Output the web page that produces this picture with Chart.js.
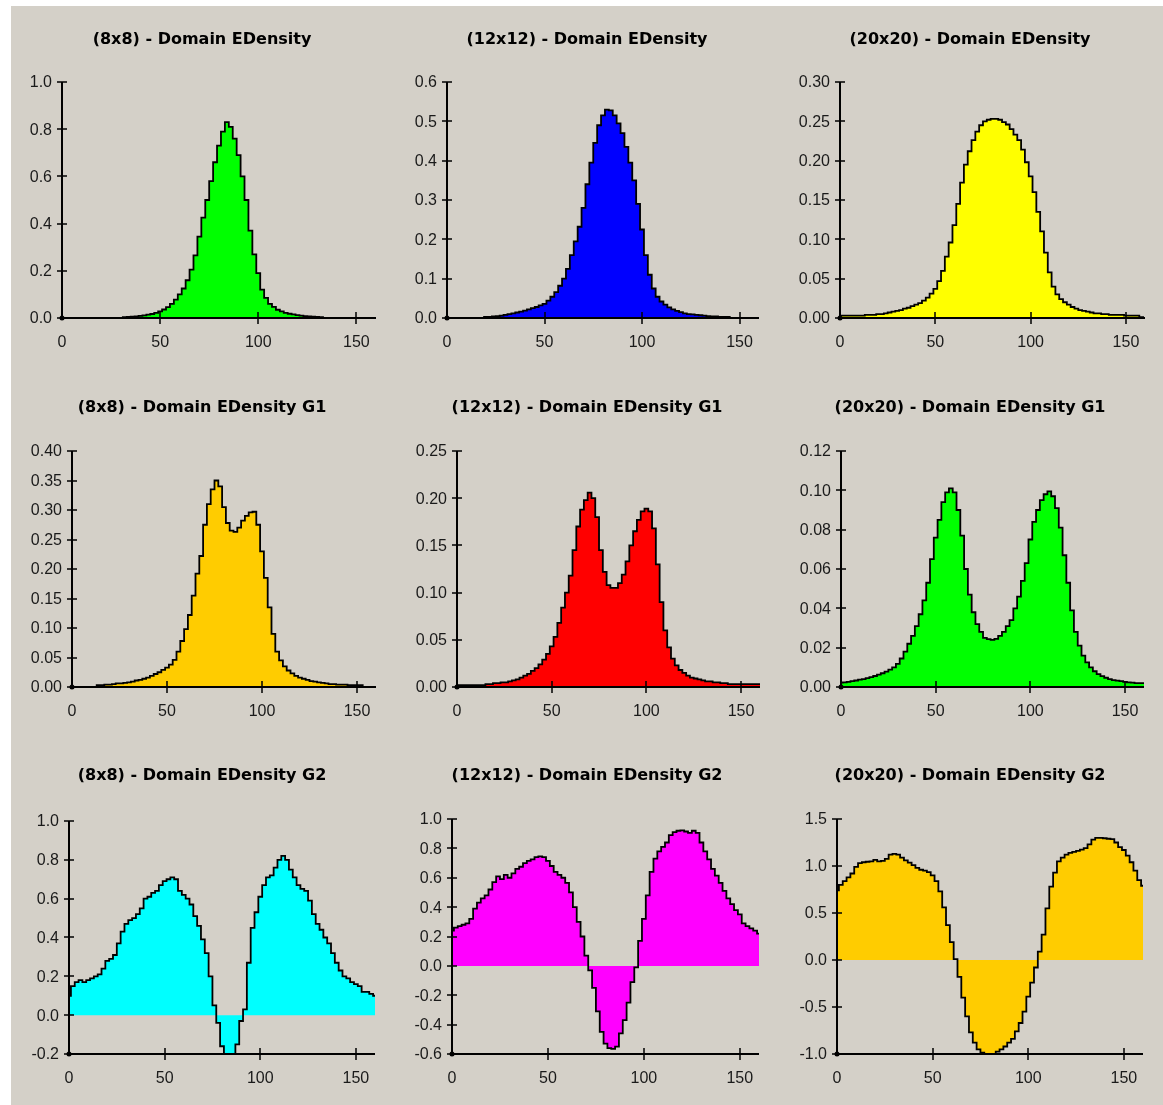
<!DOCTYPE html>
<html>
<head>
<meta charset="utf-8">
<title>Domain EDensity</title>
<script src="https://cdn.jsdelivr.net/npm/chart.js@4.4.1/dist/chart.umd.min.js"></script>
<style>
  html, body { margin: 0; padding: 0; background: #fff; }
  body { width: 1163px; height: 1105px; position: relative; overflow: hidden; }
  #panel { position: absolute; left: 11px; top: 6px; right: 0; bottom: 0; background: #d4d0c8; }
  canvas { position: absolute; }
</style>
</head>
<body>
<div id="panel"></div>
<script>
// x positions of the histogram bins (shared by all nine plots)
const xPos = [0,2,4,6,8,10,12,14,16,18,20,22,24,26,28,30,32,34,36,38,
  40,42,44,46,48,50,52,54,56,58,60,62,64,66,68,70,72,74,76,78,
  80,82,84,86,88,90,92,94,96,98,100,102,104,106,108,110,112,114,116,118,
  120,122,124,126,128,130,132,134,136,138,140,142,144,146,148,150,152,154,156,158,160];
const xTicks = [0, 50, 100, 150];
const xMax = 160;

// Domain EDensity
const edensity8 = [0,0,0,0,0,0,0,0,0,0,
  0,0,0,0,0,0,0.004,0.005,0.006,0.007,
  0.009,0.011,0.014,0.017,0.022,0.028,0.036,0.046,0.060,0.078,
  0.100,0.125,0.160,0.205,0.265,0.345,0.425,0.50,0.58,0.66,
  0.73,0.79,0.83,0.81,0.76,0.69,0.60,0.50,0.37,0.27,
  0.19,0.12,0.085,0.06,0.047,0.035,0.028,0.022,0.018,0.015,
  0.012,0.010,0.008,0.007,0.006,0.005,0.004,0,0,0,
  0,0,0,0,0,0,0,0,0,0,0];
const edensity12 = [0,0,0,0,0,0,0,0,0,0,
  0.003,0.003,0.004,0.005,0.006,0.008,0.010,0.012,0.014,0.016,
  0.019,0.022,0.025,0.028,0.032,0.036,0.044,0.054,0.066,0.082,
  0.100,0.125,0.160,0.195,0.232,0.280,0.340,0.395,0.445,0.490,
  0.515,0.530,0.528,0.515,0.495,0.470,0.435,0.395,0.350,0.290,
  0.225,0.160,0.110,0.075,0.054,0.042,0.034,0.027,0.022,0.018,
  0.015,0.012,0.010,0.009,0.008,0.007,0.006,0.005,0.004,0.004,
  0.003,0.003,0.003,0,0,0,0,0,0,0,0];
const edensity20 = [0.003,0.003,0.003,0.003,0.003,0.003,0.003,0.004,0.004,0.004,
  0.005,0.005,0.006,0.007,0.008,0.009,0.010,0.012,0.013,0.015,
  0.017,0.019,0.022,0.026,0.031,0.037,0.047,0.060,0.078,0.096,
  0.118,0.145,0.172,0.195,0.212,0.226,0.237,0.245,0.250,0.252,
  0.253,0.253,0.252,0.249,0.246,0.240,0.233,0.226,0.214,0.198,
  0.180,0.160,0.135,0.110,0.083,0.058,0.040,0.030,0.024,0.020,
  0.017,0.014,0.012,0.010,0.009,0.008,0.007,0.006,0.006,0.005,
  0.005,0.004,0.004,0.004,0.004,0.003,0.003,0.003,0.003,0.001,0];

// Domain EDensity G1
const g1Density8 = [0,0,0,0,0,0,0,0.003,0.003,0.004,
  0.004,0.005,0.006,0.006,0.007,0.008,0.009,0.011,0.012,0.014,
  0.016,0.019,0.022,0.025,0.029,0.033,0.038,0.046,0.060,0.078,
  0.098,0.122,0.155,0.192,0.222,0.275,0.310,0.335,0.350,0.340,
  0.305,0.278,0.265,0.263,0.270,0.282,0.290,0.296,0.297,0.275,
  0.230,0.185,0.135,0.090,0.060,0.045,0.035,0.028,0.023,0.019,
  0.016,0.014,0.012,0.010,0.009,0.008,0.007,0.006,0.005,0.005,
  0.004,0.004,0.004,0.003,0.003,0.003,0.003,0,0,0,0];
const g1Density12 = [0.002,0.002,0.002,0.002,0.002,0.002,0.002,0.002,0.003,0.003,
  0.004,0.004,0.005,0.005,0.006,0.007,0.008,0.010,0.012,0.014,
  0.017,0.020,0.024,0.029,0.035,0.043,0.053,0.068,0.084,0.100,
  0.118,0.145,0.170,0.188,0.198,0.206,0.200,0.180,0.145,0.122,
  0.108,0.105,0.105,0.110,0.119,0.133,0.150,0.165,0.177,0.186,
  0.189,0.186,0.168,0.130,0.090,0.060,0.042,0.030,0.023,0.018,
  0.015,0.012,0.010,0.009,0.008,0.007,0.006,0.006,0.005,0.005,
  0.004,0.004,0.003,0.003,0.003,0.003,0.003,0.003,0.003,0.003,0.003];
const g1Density20 = [0.0022,0.0024,0.0026,0.003,0.0033,0.0037,0.004,0.0045,0.005,0.0056,
  0.0063,0.007,0.0078,0.0088,0.010,0.0118,0.0145,0.018,0.022,0.026,
  0.031,0.037,0.044,0.053,0.065,0.076,0.085,0.094,0.099,0.101,
  0.099,0.090,0.077,0.060,0.047,0.038,0.032,0.028,0.025,0.0243,
  0.024,0.0245,0.026,0.028,0.031,0.034,0.040,0.046,0.054,0.063,
  0.075,0.084,0.090,0.095,0.098,0.0995,0.097,0.091,0.081,0.067,
  0.053,0.039,0.028,0.021,0.016,0.0125,0.010,0.008,0.0065,0.0055,
  0.0047,0.004,0.0035,0.0032,0.003,0.0026,0.0024,0.0022,0.002,0.002,0.002];

// Domain EDensity G2
const g2Density8 = [0.10,0.15,0.17,0.18,0.17,0.18,0.19,0.20,0.21,0.24,
  0.28,0.29,0.31,0.37,0.43,0.47,0.49,0.50,0.52,0.55,
  0.60,0.61,0.63,0.64,0.67,0.69,0.70,0.71,0.70,0.64,
  0.62,0.60,0.57,0.51,0.46,0.39,0.32,0.20,0.05,-0.04,
  -0.16,-0.24,-0.25,-0.23,-0.15,-0.03,0.03,0.27,0.45,0.53,
  0.61,0.67,0.71,0.72,0.76,0.80,0.82,0.80,0.75,0.71,
  0.67,0.65,0.64,0.59,0.52,0.47,0.44,0.40,0.37,0.32,
  0.27,0.23,0.20,0.19,0.17,0.16,0.15,0.12,0.12,0.11,0.10];
const g2Density12 = [0.24,0.26,0.27,0.28,0.29,0.32,0.39,0.43,0.46,0.48,
  0.52,0.57,0.61,0.59,0.62,0.60,0.63,0.66,0.675,0.70,
  0.715,0.725,0.74,0.745,0.74,0.715,0.68,0.64,0.62,0.60,
  0.565,0.50,0.40,0.30,0.20,0.07,-0.03,-0.15,-0.31,-0.45,
  -0.53,-0.56,-0.565,-0.55,-0.46,-0.37,-0.25,-0.11,-0.01,0.17,
  0.32,0.48,0.64,0.73,0.78,0.81,0.84,0.89,0.91,0.92,
  0.922,0.915,0.905,0.92,0.905,0.84,0.78,0.725,0.66,0.615,
  0.565,0.51,0.46,0.42,0.38,0.35,0.29,0.27,0.255,0.24,0.22];
const g2Density20 = [0.74,0.80,0.84,0.88,0.92,0.99,1.03,1.04,1.045,1.05,
  1.065,1.05,1.055,1.075,1.12,1.13,1.12,1.09,1.06,1.035,
  1.01,0.98,0.96,0.95,0.935,0.90,0.84,0.73,0.56,0.37,
  0.19,0.01,-0.18,-0.40,-0.60,-0.77,-0.88,-0.95,-0.985,-1.0,
  -1.0,-1.0,-0.975,-0.95,-0.92,-0.88,-0.84,-0.76,-0.67,-0.55,
  -0.39,-0.24,-0.08,0.09,0.27,0.55,0.78,0.93,1.05,1.09,
  1.12,1.14,1.15,1.16,1.175,1.19,1.23,1.28,1.30,1.30,
  1.295,1.29,1.285,1.25,1.20,1.17,1.11,1.04,0.95,0.85,0.79];

// y tick labels of each plot
const yTicks1 = ['0.0','0.2','0.4','0.6','0.8','1.0'];
const yTicks2 = ['0.0','0.1','0.2','0.3','0.4','0.5','0.6'];
const yTicks3 = ['0.00','0.05','0.10','0.15','0.20','0.25','0.30'];
const yTicks4 = ['0.00','0.05','0.10','0.15','0.20','0.25','0.30','0.35','0.40'];
const yTicks5 = ['0.00','0.05','0.10','0.15','0.20','0.25'];
const yTicks6 = ['0.00','0.02','0.04','0.06','0.08','0.10','0.12'];
const yTicks7 = ['-0.2','0.0','0.2','0.4','0.6','0.8','1.0'];
const yTicks8 = ['-0.6','-0.4','-0.2','0.0','0.2','0.4','0.6','0.8','1.0'];
const yTicks9 = ['-1.0','-0.5','0.0','0.5','1.0','1.5'];

const titles = [
  '(8x8) - Domain EDensity', '(12x12) - Domain EDensity', '(20x20) - Domain EDensity',
  '(8x8) - Domain EDensity G1', '(12x12) - Domain EDensity G1', '(20x20) - Domain EDensity G1',
  '(8x8) - Domain EDensity G2', '(12x12) - Domain EDensity G2', '(20x20) - Domain EDensity G2'
];
const series = [edensity8, edensity12, edensity20, g1Density8, g1Density12, g1Density20, g2Density8, g2Density12, g2Density20];
const yTickSets = [yTicks1, yTicks2, yTicks3, yTicks4, yTicks5, yTicks6, yTicks7, yTicks8, yTicks9];
const fillColors = ['#00ff00', '#0000ff', '#ffff00', '#ffcc00', '#ff0000', '#00ff00', '#00ffff', '#ff00ff', '#ffcc00'];

// layout: canvas slots and the plot rectangle of each chart in page pixels
const colLeft = [10, 395, 778];
const rowTop = [10, 378, 746];
const canvasW = 384, canvasH = 352;
const plotBox = [
  [62, 82, 376, 318], [447, 82, 759, 318], [840, 82, 1145, 318],
  [72, 451, 376, 687], [457, 451, 760, 687], [841, 451, 1144, 687],
  [69, 821, 375, 1054], [452, 819, 759, 1054], [837, 819, 1143, 1054]
];
const titlePadTop = 20, titleLine = 20;

Chart.defaults.font.family = "'Liberation Sans', Arial, sans-serif";

// axes with ticks crossing the axis lines, drawn over the filled area
const crossAxes = {
  id: 'crossAxes',
  afterDatasetsDraw(chart) {
    const { ctx, chartArea: a, scales: { x, y } } = chart;
    ctx.save();
    ctx.strokeStyle = '#000';
    ctx.lineWidth = 2;
    ctx.beginPath();
    ctx.moveTo(a.left, a.top);
    ctx.lineTo(a.left, a.bottom);
    ctx.lineTo(a.right, a.bottom);
    ctx.stroke();
    ctx.lineWidth = 1.5;
    ctx.beginPath();
    x.ticks.forEach(t => {
      if (t.value === x.min) return;
      const px = Math.round(x.getPixelForValue(t.value));
      ctx.moveTo(px, a.bottom - 6);
      ctx.lineTo(px, a.bottom + 6);
    });
    y.ticks.forEach(t => {
      const py = Math.round(y.getPixelForValue(t.value));
      ctx.moveTo(a.left - 5, py);
      ctx.lineTo(a.left + 5, py);
    });
    ctx.stroke();
    ctx.fillStyle = '#000';
    ctx.beginPath();
    ctx.arc(a.left, a.bottom, 2.5, 0, Math.PI * 2);
    ctx.fill();
    ctx.restore();
  }
};

series.forEach((vals, i) => {
  const col = i % 3, row = Math.floor(i / 3);
  const [left, top, right, bottom] = plotBox[i];
  const cLeft = colLeft[col], cTop = rowTop[row];
  const side = cLeft + canvasW - right;
  const yW = left - cLeft - side;
  const xH = cTop + canvasH - bottom;
  const tb = top - cTop - titlePadTop - titleLine;
  const labels = yTickSets[i];
  const yVals = labels.map(Number);

  const canvas = document.createElement('canvas');
  canvas.width = canvasW;
  canvas.height = canvasH;
  canvas.style.left = cLeft + 'px';
  canvas.style.top = cTop + 'px';
  document.body.appendChild(canvas);

  new Chart(canvas, {
    type: 'line',
    data: {
      datasets: [{
        data: xPos.map((x, j) => ({ x: x, y: vals[j] })),
        stepped: 'middle',
        borderColor: '#000',
        borderWidth: 1.8,
        backgroundColor: fillColors[i],
        fill: 'origin',
        pointRadius: 0
      }]
    },
    options: {
      responsive: false,
      animation: false,
      devicePixelRatio: 1,
      layout: { padding: { left: side, right: side, top: 0, bottom: 0 } },
      plugins: {
        legend: { display: false },
        tooltip: { enabled: false },
        title: {
          display: true,
          text: titles[i],
          color: '#000',
          font: { family: "'DejaVu Sans', sans-serif", size: 16, weight: 'bold', lineHeight: titleLine / 16 },
          padding: { top: titlePadTop, bottom: tb }
        }
      },
      scales: {
        x: {
          type: 'linear',
          min: 0,
          max: xMax,
          grid: { display: false, drawTicks: false },
          border: { display: false },
          afterBuildTicks: s => { s.ticks = xTicks.map(v => ({ value: v })); },
          afterFit: s => { s.height = xH; },
          ticks: { autoSkip: false, maxRotation: 0, color: '#1a1a1a', font: { size: 16 }, padding: 15 }
        },
        y: {
          type: 'linear',
          min: yVals[0],
          max: yVals[yVals.length - 1],
          grid: { display: false, drawTicks: false },
          border: { display: false },
          afterBuildTicks: s => { s.ticks = yVals.map(v => ({ value: v })); },
          afterFit: s => { s.width = yW; },
          ticks: { autoSkip: false, color: '#1a1a1a', font: { size: 16 }, padding: 10, labelOffset: 1, callback: (v, k) => labels[k] }
        }
      }
    },
    plugins: [crossAxes]
  });
});
</script>
</body>
</html>
